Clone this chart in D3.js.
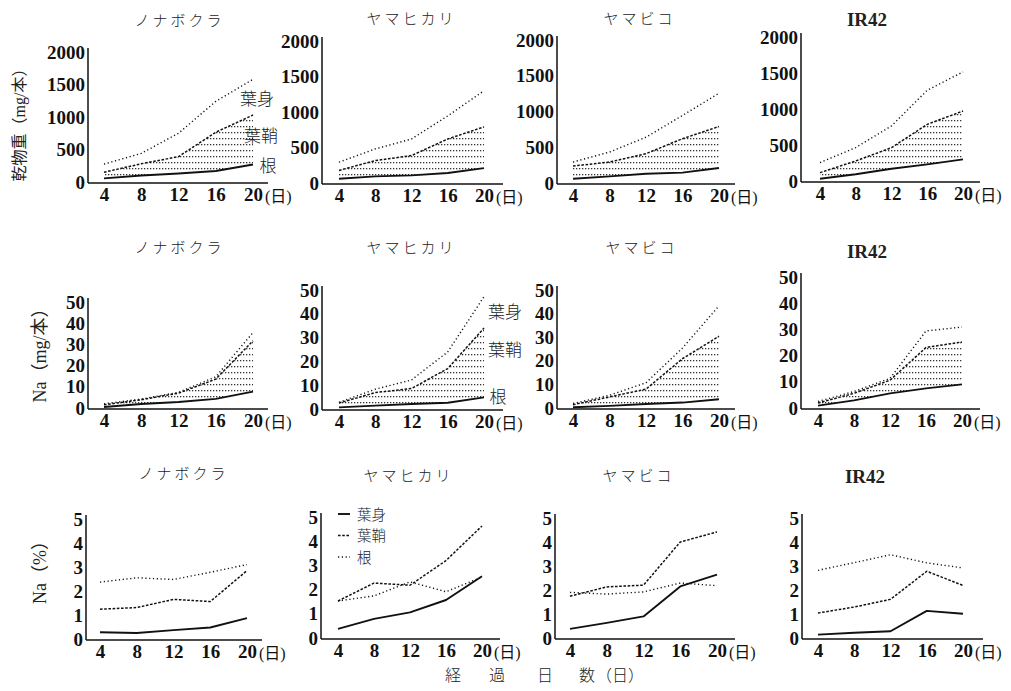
<!DOCTYPE html>
<html><head><meta charset="utf-8">
<script src="https://cdn.jsdelivr.net/npm/d3@7/dist/d3.min.js"></script>
<style>body{margin:0;background:#fff}svg{display:block}</style>
</head><body><svg id="c" width="1011" height="691"></svg>
<script>
// ---------------- data ----------------
const days = [4, 8, 12, 16, 20];
const cultivars = ["ノナボクラ", "ヤマヒカリ", "ヤマビコ", "IR42"];
// Row 1: dry weight (mg/本), cumulative levels: 根, 根+葉鞘, 根+葉鞘+葉身
const dwRoot       = [[55,100,130,170,270],[60,93,107,140,210],[60,93,130,145,210],[32,93,171,231,300]];
const dwRootSheath = [[150,280,390,765,1030],[177,316,386,620,790],[237,293,410,620,790],[116,278,463,787,972]];
const dwTotal      = [[275,440,750,1240,1580],[293,480,620,945,1300],[293,433,640,945,1255],[255,465,765,1260,1515]];
// Row 2: Na (mg/本), cumulative levels
const naRoot       = [[0.5,1.9,2.8,4.3,7.7],[0.7,1.4,2.1,2.6,4.9],[0.3,0.9,1.7,2.3,3.7],[0.9,2.9,5.6,7.5,9.0]];
const naRootSheath = [[1.5,3.9,7.0,13.6,31.7],[2.5,6.9,8.6,17.0,34.0],[1.4,4.7,8.0,20.9,30.4],[1.9,5.6,10.6,23.1,25.2]];
const naTotal      = [[2.0,4.2,7.4,14.7,35.6],[2.8,8.3,12.2,24.0,47.2],[1.9,5.4,10.7,25.4,43.3],[2.5,6.3,11.3,29.4,30.9]];
// Row 3: Na (%)
const pctBlade  = [[0.28,0.25,0.37,0.48,0.87],[0.38,0.79,1.06,1.57,2.55],[0.38,0.63,0.90,2.15,2.64],[0.14,0.22,0.28,1.13,1.01]];
const pctSheath = [[1.24,1.31,1.65,1.56,2.85],[1.53,2.27,2.18,3.20,4.63],[1.74,2.13,2.20,4.00,4.42],[1.04,1.29,1.61,2.78,2.19]];
const pctRoot   = [[2.37,2.55,2.48,2.78,3.10],[1.53,1.74,2.32,1.91,2.52],[1.90,1.83,1.92,2.29,2.18],[2.82,3.14,3.47,3.13,2.92]];
const dwTicks  = [0, 500, 1000, 1500, 2000];
const naTicks  = [0, 10, 20, 30, 40, 50];
const pctTicks = [0, 1, 2, 3, 4, 5];
const xTicks   = [4, 8, 12, 16, 20];
const partNames = ["葉身", "葉鞘", "根"];

// ---------------- layout ----------------
const layout = [
  [ {ax:88, x4:104,x20:253,y0:182,yt:52, end:268,tx:178,ty:20},
    {ax:322,x4:339,x20:484,y0:183,yt:41, end:503,tx:410,ty:18},
    {ax:557,x4:573,x20:719,y0:183,yt:40, end:735,tx:638,ty:18},
    {ax:801,x4:820,x20:963,y0:181,yt:37, end:980,tx:867,ty:20} ],
  [ {ax:88, x4:104,x20:253,y0:408,yt:302,end:268,tx:178,ty:247},
    {ax:322,x4:339,x20:484,y0:409,yt:290,end:503,tx:410,ty:247},
    {ax:557,x4:573,x20:719,y0:408,yt:290,end:735,tx:640,ty:247},
    {ax:801,x4:818,x20:962,y0:408,yt:277,end:980,tx:867,ty:252} ],
  [ {ax:86, x4:100,x20:247,y0:639,yt:519,end:262,tx:182,ty:473},
    {ax:321,x4:338,x20:482,y0:638,yt:517,end:500,tx:407,ty:475},
    {ax:555,x4:570,x20:717,y0:638,yt:518,end:735,tx:637,ty:475},
    {ax:802,x4:818,x20:963,y0:638,yt:518,end:983,tx:865,ty:477} ]
];
const numFont = "'Liberation Serif','DejaVu Serif',serif";
const jpFont = "'Liberation Serif','Noto Sans CJK JP',serif";
const styles = {
  solid:  {w:1.9, dash:null},
  dashed: {w:1.5, dash:"2.6,1.6"},
  dotted: {w:1.4, dash:"1.2,2.6"}
};

const svg = d3.select("#c");
const defs = svg.append("defs");
const pat = defs.append("pattern").attr("id","dots").attr("patternUnits","userSpaceOnUse")
  .attr("width",3).attr("height",6);
pat.append("rect").attr("x",0).attr("y",0).attr("width",1.3).attr("height",1.3).attr("fill","#333");

function drawPanel(r, c, yMax, ticks, lines, band) {
  const L = layout[r][c];
  const g = svg.append("g");
  const x = d3.scaleLinear().domain([4,20]).range([L.x4, L.x20]);
  const y = d3.scaleLinear().domain([0,yMax]).range([L.y0, L.yt]);
  // title
  const isLatin = /^[A-Za-z0-9]+$/.test(cultivars[c]);
  g.append("text").attr("x", L.tx + (isLatin?0:1.5)).attr("y", L.ty + 6)
    .attr("text-anchor","middle")
    .style("font-family", isLatin ? numFont : "'Noto Sans CJK JP',sans-serif")
    .style("font-size", isLatin ? "19px" : "15px")
    .style("letter-spacing", isLatin ? "0px" : "3px")
    .style("font-weight", isLatin ? "bold" : "300")
    .attr("fill","#222").text(cultivars[c]);
  // band fill
  if (band) {
    const area = d3.area().x((d,i)=>x(days[i])).y0((d,i)=>y(band[0][i])).y1((d,i)=>y(band[1][i]));
    g.append("path").datum(band[0]).attr("d", area).attr("fill","url(#dots)");
  }
  // axes lines
  g.append("line").attr("x1",L.ax).attr("x2",L.end).attr("y1",L.y0+1).attr("y2",L.y0+1)
    .attr("stroke","#111").attr("stroke-width",1.6);
  g.append("line").attr("x1",L.ax).attr("x2",L.ax).attr("y1",L.y0+1).attr("y2",L.yt-4)
    .attr("stroke","#111").attr("stroke-width",1.5);
  // y axis labels
  const ya = d3.axisLeft(y).tickValues(ticks).tickFormat(d3.format("d")).tickSize(0).tickPadding(3);
  const yg = g.append("g").attr("transform",`translate(${L.ax},0)`).call(ya);
  yg.select(".domain").remove();
  yg.attr("font-family", null).attr("font-size", null);
  yg.selectAll("text").style("font-family",numFont).style("font-size","19px")
    .style("font-weight","bold").attr("fill","#111");
  // x axis labels
  const xa = d3.axisBottom(x).tickValues(xTicks).tickFormat(d3.format("d")).tickSize(0).tickPadding(5);
  const xg = g.append("g").attr("transform",`translate(0,${L.y0+1})`).call(xa);
  xg.select(".domain").remove();
  xg.attr("font-family", null).attr("font-size", null);
  xg.selectAll("text").style("font-family",numFont).style("font-size","19px")
    .style("font-weight","bold").attr("fill","#111");
  g.append("text").attr("x", x(20)+12).attr("y", L.y0+20)
    .style("font-family",jpFont).style("font-size","16px").attr("fill","#111").text("(日)");
  // lines
  lines.forEach(ln => {
    const st = styles[ln.style];
    const lg = d3.line().x((d,i)=>x(days[i])).y(d=>y(d));
    g.append("path").datum(ln.values).attr("d", lg).attr("fill","none")
      .attr("stroke","#111").attr("stroke-width",st.w)
      .attr("stroke-dasharray",st.dash).attr("stroke-linejoin","round");
  });
}

for (let c = 0; c < 4; c++) {
  drawPanel(0, c, 2000, dwTicks,
    [{values:dwRoot[c],style:"solid"},{values:dwRootSheath[c],style:"dashed"},{values:dwTotal[c],style:"dotted"}],
    [dwRoot[c], dwRootSheath[c]]);
  drawPanel(1, c, 50, naTicks,
    [{values:naRoot[c],style:"solid"},{values:naRootSheath[c],style:"dashed"},{values:naTotal[c],style:"dotted"}],
    [naRoot[c], naRootSheath[c]]);
  drawPanel(2, c, 5, pctTicks,
    [{values:pctBlade[c],style:"solid"},{values:pctSheath[c],style:"dashed"},{values:pctRoot[c],style:"dotted"}],
    null);
}

// part labels (row 1 panel 1, row 2 panel 2)
function partLabel(txt, xx, yy) {
  svg.append("text").attr("x",xx).attr("y",yy+6).attr("text-anchor","middle")
    .style("font-family","'Noto Sans CJK JP',sans-serif").style("font-size","17px")
    .style("font-weight","300").attr("fill","#222").text(txt);
}
[[257,99],[261,136],[268,166]].forEach((p,i)=>partLabel(partNames[i],p[0],p[1]));
[[505,312],[505,350],[498,397]].forEach((p,i)=>partLabel(partNames[i],p[0],p[1]));

// legend in row 3 panel 2
const legStyles = ["solid","dashed","dotted"];
[514,535.5,557].forEach((yy,i)=>{
  const st = styles[legStyles[i]];
  svg.append("line").attr("x1",338).attr("x2",350).attr("y1",yy).attr("y2",yy)
    .attr("stroke","#111").attr("stroke-width",st.w).attr("stroke-dasharray",st.dash);
  svg.append("text").attr("x",357).attr("y",yy+5.5)
    .style("font-family","'Noto Sans CJK JP',sans-serif").style("font-size","14.5px")
    .style("font-weight","300").attr("fill","#222").text(partNames[i]);
});

// y-axis titles
function yTitle(txt, xx, yy, size) {
  svg.append("text").attr("transform",`translate(${xx},${yy}) rotate(-90)`)
    .attr("text-anchor","middle").attr("dy","0.35em")
    .style("font-family",jpFont).style("font-size",size+"px").attr("fill","#222").text(txt);
}
yTitle("乾物重（mg/本）", 19, 121, 16);
yTitle("Na（mg/本）", 40, 351, 18);
yTitle("Na（%）", 40, 568, 18);

// bottom axis title
[["経",453],["過",497],["日",545],["数",587],["（日）",620]].forEach(d=>{
  svg.append("text").attr("x",d[1]).attr("y",681).attr("text-anchor","middle")
    .style("font-family","'Noto Sans CJK JP',sans-serif").style("font-size","16px")
    .style("font-weight","300").attr("fill","#222").text(d[0]);
});
</script></body></html>
